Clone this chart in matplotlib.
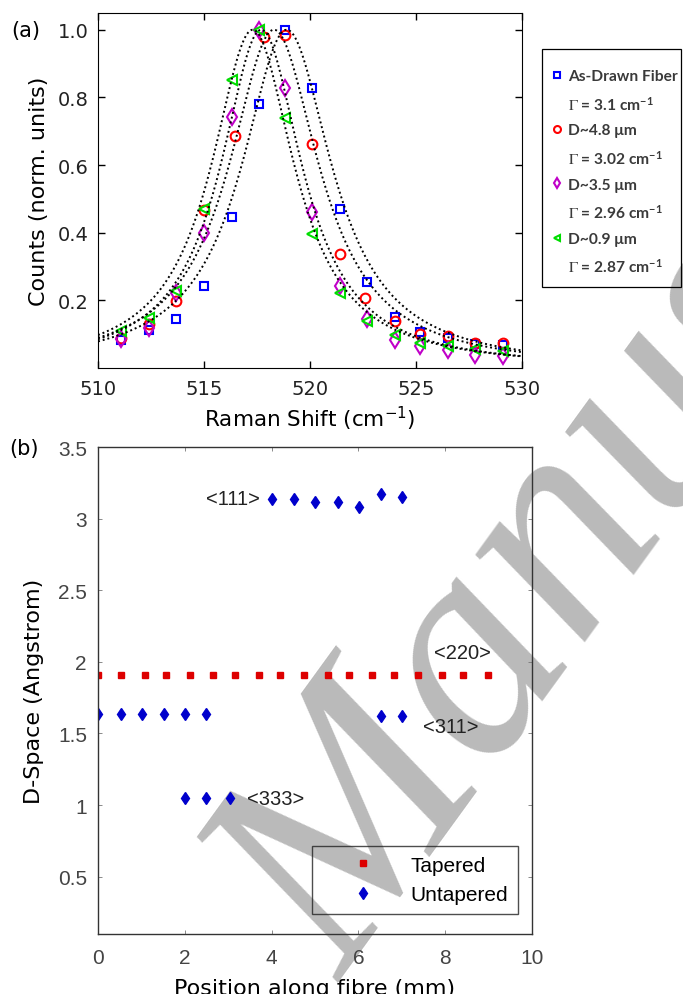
import numpy as np
import matplotlib.pyplot as plt
from matplotlib.lines import Line2D
from matplotlib.patches import Rectangle
from matplotlib.font_manager import FontProperties

# ---- (a) Raman spectra, normalised counts ----
shift = [511.1, 512.4, 513.7, 515.0, 516.3, 517.6, 518.8, 520.1,
         521.4, 522.7, 524.0, 525.2, 526.5, 527.8, 529.1]
shift_red = [511.1, 512.4, 513.7, 515.0, 516.45, 517.85, 518.8, 520.1,
             521.4, 522.6, 524.0, 525.2, 526.5, 527.8, 529.1]

as_drawn = [0.082, 0.111, 0.144, 0.244, 0.446, 0.781, 1.0, 0.827,
            0.469, 0.254, 0.152, 0.107, 0.088, 0.072, 0.067]
d_48 = [0.09, 0.129, 0.198, 0.468, 0.687, 0.98, 0.983, 0.662,
        0.336, 0.206, 0.139, 0.102, 0.094, 0.075, 0.075]
d_35 = [0.086, 0.119, 0.223, 0.40, 0.741, 1.0, 0.827, 0.46,
        0.242, 0.146, 0.084, 0.065, 0.053, 0.04, 0.037]
d_09 = [0.109, 0.149, 0.228, 0.47, 0.852, 1.0, 0.739, 0.396,
        0.223, 0.138, 0.099, 0.075, 0.065, 0.055, 0.05]

# Lorentzian fits (centre, half width)
fit_center = [518.9, 518.3, 517.7, 517.3]
fit_hwhm = [2.6, 2.6, 2.35, 2.4]

names = ["As-Drawn Fiber", "D~4.8 μm", "D~3.5 μm", "D~0.9 μm"]
gammas = ["3.1", "3.02", "2.96", "2.87"]

# ---- (b) d-spacing along the fibre ----
tapered_x = [0, 0.54, 1.08, 1.56, 2.11, 2.66, 3.15, 3.70, 4.19,
             4.74, 5.30, 5.78, 6.32, 6.83, 7.37, 7.92, 8.42, 8.98]
tapered_y = [1.91] * 18

untapered_x = [4.02, 4.51, 5.0, 5.53, 6.02, 6.53, 7.01,
               0, 0.54, 1.02, 1.51, 2.0, 2.49, 6.53, 7.01,
               2.0, 2.49, 3.04]
untapered_y = [3.136, 3.136, 3.115, 3.115, 3.08, 3.173, 3.153,
               1.637, 1.637, 1.637, 1.637, 1.637, 1.637, 1.62, 1.62,
               1.047, 1.047, 1.047]

planes = ["<111>", "<220>", "<311>", "<333>"]
plane_x = [3.12, 8.4, 8.12, 4.1]
plane_y = [3.14, 2.064, 1.55, 1.047]


fig = plt.figure(figsize=(6.83, 9.95), dpi=100)

# watermark, behind both panels
fig.text(0.5, 0.012, "Manuscript", rotation=54, rotation_mode="anchor",
         ha="left", va="baseline", fontsize=220, family="Liberation Serif",
         style="italic", color="#bababa", zorder=-5)

ax1 = fig.add_axes([0.1435, 0.6291, 0.6208, 0.357])
ax1.set_facecolor("none")

colors = ["#0000ff", "#ff0000", "#c000c8", "#00dd00"]
markers = ["s", "o", "d", "<"]
sizes = [6, 7, 8, 7]
series = [as_drawn, d_48, d_35, d_09]
xs = [shift, shift_red, shift, shift]

for x, y, c, m, s in zip(xs, series, colors, markers, sizes):
    ax1.plot(x, y, linestyle="none", marker=m, ms=s, mfc="none", mec=c, mew=1.5)

xx = np.linspace(510, 530, 400)
for c0, g in zip(fit_center, fit_hwhm):
    ax1.plot(xx, 1.0 / (1 + ((xx - c0) / g) ** 2), color="black",
             linestyle=(0, (1, 1.5)), lw=1.4)

ax1.set_xlim(510, 530)
ax1.set_ylim(0, 1.05)
ax1.set_xticks([510, 515, 520, 525, 530])
ax1.set_yticks([0.2, 0.4, 0.6, 0.8, 1.0])
ax1.set_yticklabels(["0.2", "0.4", "0.6", "0.8", "1.0"])
ax1.tick_params(direction="in", top=True, right=True, length=5, width=1,
                labelsize=14, labelcolor="#222222")
ax1.tick_params(axis="x", pad=8)
ax1.tick_params(axis="y", pad=7)
ax1.set_xlabel("Raman Shift (cm$^{-1}$)", fontsize=15.5, labelpad=4)
ax1.set_ylabel("Counts (norm. units)", fontsize=16, labelpad=6)
fig.text(0.017, 0.969, "(a)", fontsize=15, va="center")

handles = []
labels = []
for n, gm, c, m in zip(names, gammas, colors, markers):
    handles.append(Line2D([], [], linestyle="none", marker=m, ms=5,
                          mfc="none", mec=c, mew=1.5))
    labels.append(n)
    handles.append(Line2D([], [], linestyle="none", marker="none"))
    labels.append(r"$\Gamma$ = " + gm + r" cm$^{\mathregular{-1}}$")

# frame of the outside legend, drawn separately so the rows sit as in the original
fig.add_artist(Rectangle((542 / 683, 1 - 288 / 995), 139 / 683, 238 / 995,
                         transform=fig.transFigure, fill=False,
                         edgecolor="black", lw=0.9))
leg_prop = FontProperties(family=["Lato", "DejaVu Sans"], weight="bold",
                          size=11.2, math_fontfamily="stix")
leg1 = fig.legend(handles, labels, loc="upper left",
                  bbox_to_anchor=(549 / 683, 1 - 67 / 995), borderaxespad=0,
                  prop=leg_prop, handlelength=0.6, handletextpad=0.45,
                  labelspacing=0.72, borderpad=0.2, frameon=False)
for t in leg1.get_texts():
    t.set_color("#3a3a3a")

# ---- panel (b) ----
ax2 = fig.add_axes([0.1435, 0.0603, 0.6354, 0.4894])
ax2.set_facecolor("none")
ax2.plot(tapered_x, tapered_y, linestyle="none", marker="s", ms=4.8,
         color="#dd0000", label="Tapered")
ax2.plot(untapered_x, untapered_y, linestyle="none", marker="d", ms=6.5,
         color="#0000cc", label="Untapered")

for p, px, py in zip(planes, plane_x, plane_y):
    ax2.text(px, py, p, fontsize=14.5, family="Liberation Sans",
             color="#222222", ha="center", va="center")

ax2.set_xlim(0, 10)
ax2.set_ylim(0.1, 3.5)
ax2.set_xticks([0, 2, 4, 6, 8, 10])
ax2.set_yticks([0.5, 1, 1.5, 2, 2.5, 3, 3.5])
ax2.set_yticklabels(["0.5", "1", "1.5", "2", "2.5", "3", "3.5"])
for lab in ax2.get_xticklabels() + ax2.get_yticklabels():
    lab.set_family("Liberation Sans")
ax2.tick_params(direction="in", top=True, right=True, length=3, width=0.6,
                color="#777777", labelsize=15, labelcolor="#444444")
ax2.tick_params(axis="x", pad=10)
ax2.tick_params(axis="y", pad=8)
for sp in ax2.spines.values():
    sp.set_color("#333333")
    sp.set_linewidth(1)
ax2.set_xlabel("Position along fibre (mm)", fontsize=16, labelpad=8)
ax2.set_ylabel("D-Space (Angstrom)", fontsize=16, labelpad=10)
fig.text(0.013, 0.549, "(b)", fontsize=15, va="center")

leg2 = ax2.legend(loc="upper left", bbox_to_anchor=(0.492, 0.18),
                  borderaxespad=0, prop={"family": "Liberation Sans", "size": 15},
                  handlelength=4.0, handletextpad=0.31, labelspacing=0.5,
                  borderpad=0.45, fancybox=False)
leg2.get_frame().set_facecolor("none")
leg2.get_frame().set_edgecolor("#222222")
leg2.get_frame().set_linewidth(1)

fig.savefig("out.png", dpi=100)
